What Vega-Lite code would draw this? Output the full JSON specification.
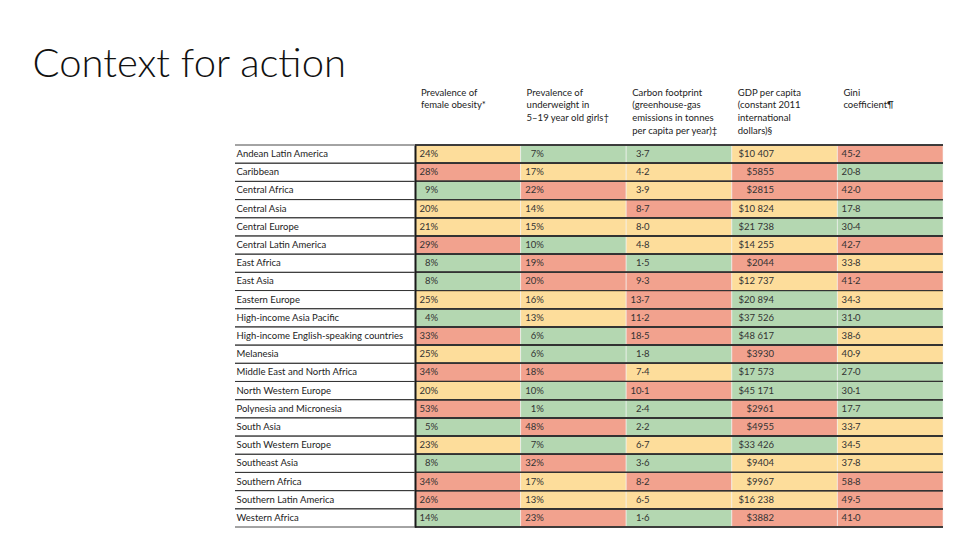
{
  "$schema": "https://vega.github.io/schema/vega-lite/v6.json",
  "background": "white",
  "padding": {"left": 32, "top": 45, "right": 0, "bottom": 0},
  "bounds": "flush",
  "spacing": 0,
  "title": {"text": "Context for action", "anchor": "start", "dx": -202, "offset": 2, "font": "Lato", "fontSize": 40, "fontWeight": 300, "color": "#111"},
  "datasets": {
    "headers": [
      {"metric": "obesity", "header": "Prevalence of|female obesity*"},
      {"metric": "underweight", "header": "Prevalence of|underweight in|5–19 year old girls†"},
      {"metric": "carbon", "header": "Carbon footprint|(greenhouse-gas|emissions in tonnes|per capita per year)‡"},
      {"metric": "gdp", "header": "GDP per capita|(constant 2011|international|dollars)§"},
      {"metric": "gini", "header": "Gini|coefficient¶"}
    ],
    "cells": [
      {"region": "Andean Latin America", "metric": "obesity", "value": "24%", "rating": "fair"},
      {"region": "Andean Latin America", "metric": "underweight", "value": "7%", "rating": "good"},
      {"region": "Andean Latin America", "metric": "carbon", "value": "3·7", "rating": "good"},
      {"region": "Andean Latin America", "metric": "gdp", "value": "$10 407", "rating": "fair"},
      {"region": "Andean Latin America", "metric": "gini", "value": "45·2", "rating": "poor"},
      {"region": "Caribbean", "metric": "obesity", "value": "28%", "rating": "poor"},
      {"region": "Caribbean", "metric": "underweight", "value": "17%", "rating": "fair"},
      {"region": "Caribbean", "metric": "carbon", "value": "4·2", "rating": "fair"},
      {"region": "Caribbean", "metric": "gdp", "value": "$5855", "rating": "poor"},
      {"region": "Caribbean", "metric": "gini", "value": "20·8", "rating": "good"},
      {"region": "Central Africa", "metric": "obesity", "value": "9%", "rating": "good"},
      {"region": "Central Africa", "metric": "underweight", "value": "22%", "rating": "poor"},
      {"region": "Central Africa", "metric": "carbon", "value": "3·9", "rating": "fair"},
      {"region": "Central Africa", "metric": "gdp", "value": "$2815", "rating": "poor"},
      {"region": "Central Africa", "metric": "gini", "value": "42·0", "rating": "poor"},
      {"region": "Central Asia", "metric": "obesity", "value": "20%", "rating": "fair"},
      {"region": "Central Asia", "metric": "underweight", "value": "14%", "rating": "fair"},
      {"region": "Central Asia", "metric": "carbon", "value": "8·7", "rating": "poor"},
      {"region": "Central Asia", "metric": "gdp", "value": "$10 824", "rating": "fair"},
      {"region": "Central Asia", "metric": "gini", "value": "17·8", "rating": "good"},
      {"region": "Central Europe", "metric": "obesity", "value": "21%", "rating": "fair"},
      {"region": "Central Europe", "metric": "underweight", "value": "15%", "rating": "fair"},
      {"region": "Central Europe", "metric": "carbon", "value": "8·0", "rating": "fair"},
      {"region": "Central Europe", "metric": "gdp", "value": "$21 738", "rating": "good"},
      {"region": "Central Europe", "metric": "gini", "value": "30·4", "rating": "good"},
      {"region": "Central Latin America", "metric": "obesity", "value": "29%", "rating": "poor"},
      {"region": "Central Latin America", "metric": "underweight", "value": "10%", "rating": "good"},
      {"region": "Central Latin America", "metric": "carbon", "value": "4·8", "rating": "fair"},
      {"region": "Central Latin America", "metric": "gdp", "value": "$14 255", "rating": "fair"},
      {"region": "Central Latin America", "metric": "gini", "value": "42·7", "rating": "poor"},
      {"region": "East Africa", "metric": "obesity", "value": "8%", "rating": "good"},
      {"region": "East Africa", "metric": "underweight", "value": "19%", "rating": "poor"},
      {"region": "East Africa", "metric": "carbon", "value": "1·5", "rating": "good"},
      {"region": "East Africa", "metric": "gdp", "value": "$2044", "rating": "poor"},
      {"region": "East Africa", "metric": "gini", "value": "33·8", "rating": "fair"},
      {"region": "East Asia", "metric": "obesity", "value": "8%", "rating": "good"},
      {"region": "East Asia", "metric": "underweight", "value": "20%", "rating": "poor"},
      {"region": "East Asia", "metric": "carbon", "value": "9·3", "rating": "poor"},
      {"region": "East Asia", "metric": "gdp", "value": "$12 737", "rating": "fair"},
      {"region": "East Asia", "metric": "gini", "value": "41·2", "rating": "poor"},
      {"region": "Eastern Europe", "metric": "obesity", "value": "25%", "rating": "fair"},
      {"region": "Eastern Europe", "metric": "underweight", "value": "16%", "rating": "fair"},
      {"region": "Eastern Europe", "metric": "carbon", "value": "13·7", "rating": "poor"},
      {"region": "Eastern Europe", "metric": "gdp", "value": "$20 894", "rating": "good"},
      {"region": "Eastern Europe", "metric": "gini", "value": "34·3", "rating": "fair"},
      {"region": "High-income Asia Pacific", "metric": "obesity", "value": "4%", "rating": "good"},
      {"region": "High-income Asia Pacific", "metric": "underweight", "value": "13%", "rating": "fair"},
      {"region": "High-income Asia Pacific", "metric": "carbon", "value": "11·2", "rating": "poor"},
      {"region": "High-income Asia Pacific", "metric": "gdp", "value": "$37 526", "rating": "good"},
      {"region": "High-income Asia Pacific", "metric": "gini", "value": "31·0", "rating": "good"},
      {"region": "High-income English-speaking countries", "metric": "obesity", "value": "33%", "rating": "poor"},
      {"region": "High-income English-speaking countries", "metric": "underweight", "value": "6%", "rating": "good"},
      {"region": "High-income English-speaking countries", "metric": "carbon", "value": "18·5", "rating": "poor"},
      {"region": "High-income English-speaking countries", "metric": "gdp", "value": "$48 617", "rating": "good"},
      {"region": "High-income English-speaking countries", "metric": "gini", "value": "38·6", "rating": "fair"},
      {"region": "Melanesia", "metric": "obesity", "value": "25%", "rating": "fair"},
      {"region": "Melanesia", "metric": "underweight", "value": "6%", "rating": "good"},
      {"region": "Melanesia", "metric": "carbon", "value": "1·8", "rating": "good"},
      {"region": "Melanesia", "metric": "gdp", "value": "$3930", "rating": "poor"},
      {"region": "Melanesia", "metric": "gini", "value": "40·9", "rating": "fair"},
      {"region": "Middle East and North Africa", "metric": "obesity", "value": "34%", "rating": "poor"},
      {"region": "Middle East and North Africa", "metric": "underweight", "value": "18%", "rating": "poor"},
      {"region": "Middle East and North Africa", "metric": "carbon", "value": "7·4", "rating": "fair"},
      {"region": "Middle East and North Africa", "metric": "gdp", "value": "$17 573", "rating": "good"},
      {"region": "Middle East and North Africa", "metric": "gini", "value": "27·0", "rating": "good"},
      {"region": "North Western Europe", "metric": "obesity", "value": "20%", "rating": "fair"},
      {"region": "North Western Europe", "metric": "underweight", "value": "10%", "rating": "good"},
      {"region": "North Western Europe", "metric": "carbon", "value": "10·1", "rating": "poor"},
      {"region": "North Western Europe", "metric": "gdp", "value": "$45 171", "rating": "good"},
      {"region": "North Western Europe", "metric": "gini", "value": "30·1", "rating": "good"},
      {"region": "Polynesia and Micronesia", "metric": "obesity", "value": "53%", "rating": "poor"},
      {"region": "Polynesia and Micronesia", "metric": "underweight", "value": "1%", "rating": "good"},
      {"region": "Polynesia and Micronesia", "metric": "carbon", "value": "2·4", "rating": "good"},
      {"region": "Polynesia and Micronesia", "metric": "gdp", "value": "$2961", "rating": "poor"},
      {"region": "Polynesia and Micronesia", "metric": "gini", "value": "17·7", "rating": "good"},
      {"region": "South Asia", "metric": "obesity", "value": "5%", "rating": "good"},
      {"region": "South Asia", "metric": "underweight", "value": "48%", "rating": "poor"},
      {"region": "South Asia", "metric": "carbon", "value": "2·2", "rating": "good"},
      {"region": "South Asia", "metric": "gdp", "value": "$4955", "rating": "poor"},
      {"region": "South Asia", "metric": "gini", "value": "33·7", "rating": "fair"},
      {"region": "South Western Europe", "metric": "obesity", "value": "23%", "rating": "fair"},
      {"region": "South Western Europe", "metric": "underweight", "value": "7%", "rating": "good"},
      {"region": "South Western Europe", "metric": "carbon", "value": "6·7", "rating": "fair"},
      {"region": "South Western Europe", "metric": "gdp", "value": "$33 426", "rating": "good"},
      {"region": "South Western Europe", "metric": "gini", "value": "34·5", "rating": "fair"},
      {"region": "Southeast Asia", "metric": "obesity", "value": "8%", "rating": "good"},
      {"region": "Southeast Asia", "metric": "underweight", "value": "32%", "rating": "poor"},
      {"region": "Southeast Asia", "metric": "carbon", "value": "3·6", "rating": "good"},
      {"region": "Southeast Asia", "metric": "gdp", "value": "$9404", "rating": "fair"},
      {"region": "Southeast Asia", "metric": "gini", "value": "37·8", "rating": "fair"},
      {"region": "Southern Africa", "metric": "obesity", "value": "34%", "rating": "poor"},
      {"region": "Southern Africa", "metric": "underweight", "value": "17%", "rating": "fair"},
      {"region": "Southern Africa", "metric": "carbon", "value": "8·2", "rating": "poor"},
      {"region": "Southern Africa", "metric": "gdp", "value": "$9967", "rating": "fair"},
      {"region": "Southern Africa", "metric": "gini", "value": "58·8", "rating": "poor"},
      {"region": "Southern Latin America", "metric": "obesity", "value": "26%", "rating": "poor"},
      {"region": "Southern Latin America", "metric": "underweight", "value": "13%", "rating": "fair"},
      {"region": "Southern Latin America", "metric": "carbon", "value": "6·5", "rating": "fair"},
      {"region": "Southern Latin America", "metric": "gdp", "value": "$16 238", "rating": "fair"},
      {"region": "Southern Latin America", "metric": "gini", "value": "49·5", "rating": "poor"},
      {"region": "Western Africa", "metric": "obesity", "value": "14%", "rating": "good"},
      {"region": "Western Africa", "metric": "underweight", "value": "23%", "rating": "poor"},
      {"region": "Western Africa", "metric": "carbon", "value": "1·6", "rating": "good"},
      {"region": "Western Africa", "metric": "gdp", "value": "$3882", "rating": "poor"},
      {"region": "Western Africa", "metric": "gini", "value": "41·0", "rating": "poor"}
    ]
  },
  "hconcat": [
    {
      "width": 180,
      "height": 382,
      "data": {"name": "cells"},
      "transform": [{"filter": "datum.metric == 'obesity'"}],
      "encoding": {
        "y": {
          "field": "region", "type": "nominal", "sort": null,
          "scale": {"paddingInner": 0, "paddingOuter": 0},
          "axis": {"title": null, "orient": "left", "labelAlign": "left", "labelPadding": -1, "ticks": false, "tickSize": 0, "domain": false, "labelFont": "Lato", "labelFontSize": 9.5, "labelColor": "#222", "labelLimit": 0, "zindex": 1}
        }
      },
      "layer": [
        {"mark": {"type": "rule", "color": "#333", "strokeWidth": 0.9}, "encoding": {"y": {"field": "region", "type": "nominal", "sort": null, "bandPosition": 0}}},
        {"mark": {"type": "rule", "color": "#333", "strokeWidth": 0.9}, "encoding": {"y": {"field": "region", "type": "nominal", "sort": null, "bandPosition": 1}}}
      ]
    },
    {
      "width": 528,
      "height": 382,
      "data": {"name": "cells"},
      "transform": [{"lookup": "metric", "from": {"data": {"name": "headers"}, "key": "metric", "fields": ["header"]}}],
      "encoding": {
        "y": {
          "field": "region", "type": "nominal", "sort": null,
          "scale": {"paddingInner": 0, "paddingOuter": 0},
          "axis": {"title": null, "labels": false, "ticks": false, "domain": true, "domainColor": "#1a1a1a", "domainWidth": 2, "zindex": 1}
        },
        "x": {
          "field": "header", "type": "nominal", "sort": null,
          "scale": {"paddingInner": 0, "paddingOuter": 0},
          "axis": {"title": null, "orient": "top", "labelAngle": 0, "labelAlign": "left", "labelBaseline": "top", "labelOffset": -46.8, "labelPadding": 58, "ticks": false, "tickSize": 0, "domain": false, "labelExpr": "split(datum.value, '|')", "labelLineHeight": 12.7, "labelFont": "Lato", "labelFontSize": 9.5, "labelColor": "#222", "labelLimit": 0, "labelOverlap": false}
        }
      },
      "layer": [
        {
          "mark": {"type": "rect", "stroke": "#f4f4f4", "strokeWidth": 0.6},
          "encoding": {
            "color": {"field": "rating", "type": "nominal", "legend": null,
              "scale": {"domain": ["good", "fair", "poor"], "range": ["#b4d7b1", "#fddd9b", "#f2a28e"]}}
          }
        },
        {"mark": {"type": "rule", "color": "#333", "strokeWidth": 0.9}, "encoding": {"x": null, "y": {"field": "region", "type": "nominal", "sort": null, "bandPosition": 0}}},
        {"mark": {"type": "rule", "color": "#333", "strokeWidth": 0.9}, "encoding": {"x": null, "y": {"field": "region", "type": "nominal", "sort": null, "bandPosition": 1}}},
        {
          "transform": [{"filter": "datum.metric != 'gdp'"}],
          "mark": {"type": "text", "align": "right", "font": "Lato", "fontSize": 9.5, "color": "#333"},
          "encoding": {"x": {"field": "header", "type": "nominal", "sort": null, "bandPosition": 0.22}, "text": {"field": "value"}}
        },
        {
          "transform": [{"filter": "datum.metric == 'gdp'"}],
          "mark": {"type": "text", "align": "right", "font": "Lato", "fontSize": 9.5, "color": "#333"},
          "encoding": {"x": {"field": "header", "type": "nominal", "sort": null, "bandPosition": 0.4}, "text": {"field": "value"}}
        }
      ]
    }
  ],
  "config": {"view": {"stroke": null}}
}
